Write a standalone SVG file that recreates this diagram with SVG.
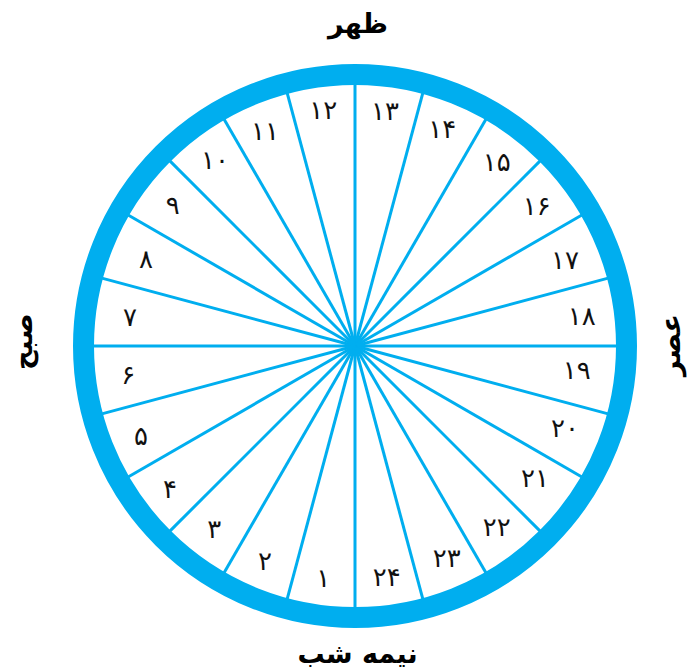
<svg xmlns="http://www.w3.org/2000/svg" width="687" height="672" viewBox="0 0 687 672">
<style>
.spoke{stroke:#00AEEF;stroke-width:3;}
.ring{fill:none;stroke:#00AEEF;stroke-width:21;}
.num{font-family:"DejaVu Sans",sans-serif;font-size:26px;fill:#111;text-anchor:middle;}
.title{font-family:"DejaVu Sans",sans-serif;font-weight:bold;font-size:27px;fill:#000;text-anchor:middle;}
</style>
<rect width="687" height="672" fill="#fff"/>
<g id="connectors">
<g transform="translate(355,346)">
<line class="spoke" x1="0" y1="0" x2="0" y2="-265"/>
<line class="spoke" x1="0" y1="0" x2="0" y2="-265" transform="rotate(15)"/>
<line class="spoke" x1="0" y1="0" x2="0" y2="-265" transform="rotate(30)"/>
<line class="spoke" x1="0" y1="0" x2="0" y2="-265" transform="rotate(45)"/>
<line class="spoke" x1="0" y1="0" x2="0" y2="-265" transform="rotate(60)"/>
<line class="spoke" x1="0" y1="0" x2="0" y2="-265" transform="rotate(75)"/>
<line class="spoke" x1="0" y1="0" x2="0" y2="-265" transform="rotate(90)"/>
<line class="spoke" x1="0" y1="0" x2="0" y2="-265" transform="rotate(105)"/>
<line class="spoke" x1="0" y1="0" x2="0" y2="-265" transform="rotate(120)"/>
<line class="spoke" x1="0" y1="0" x2="0" y2="-265" transform="rotate(135)"/>
<line class="spoke" x1="0" y1="0" x2="0" y2="-265" transform="rotate(150)"/>
<line class="spoke" x1="0" y1="0" x2="0" y2="-265" transform="rotate(165)"/>
<line class="spoke" x1="0" y1="0" x2="0" y2="-265" transform="rotate(180)"/>
<line class="spoke" x1="0" y1="0" x2="0" y2="-265" transform="rotate(195)"/>
<line class="spoke" x1="0" y1="0" x2="0" y2="-265" transform="rotate(210)"/>
<line class="spoke" x1="0" y1="0" x2="0" y2="-265" transform="rotate(225)"/>
<line class="spoke" x1="0" y1="0" x2="0" y2="-265" transform="rotate(240)"/>
<line class="spoke" x1="0" y1="0" x2="0" y2="-265" transform="rotate(255)"/>
<line class="spoke" x1="0" y1="0" x2="0" y2="-265" transform="rotate(270)"/>
<line class="spoke" x1="0" y1="0" x2="0" y2="-265" transform="rotate(285)"/>
<line class="spoke" x1="0" y1="0" x2="0" y2="-265" transform="rotate(300)"/>
<line class="spoke" x1="0" y1="0" x2="0" y2="-265" transform="rotate(315)"/>
<line class="spoke" x1="0" y1="0" x2="0" y2="-265" transform="rotate(330)"/>
<line class="spoke" x1="0" y1="0" x2="0" y2="-265" transform="rotate(345)"/>
</g>
</g>
<g id="clock-ring"><circle class="ring" cx="355" cy="346" r="271.5"/></g>
<g id="hours">
<text class="num" x="323.3" y="118.5">۱۲</text>
<text class="num" x="265" y="139.5">۱۱</text>
<text class="num" x="215" y="168.5">۱۰</text>
<text class="num" x="172.7" y="213.5">۹</text>
<text class="num" x="146" y="267.5">۸</text>
<text class="num" x="130" y="326">۷</text>
<text class="num" x="128.3" y="383.5">۶</text>
<text class="num" x="141" y="444.5">۵</text>
<text class="num" x="170" y="498">۴</text>
<text class="num" x="214.3" y="538">۳</text>
<text class="num" x="265" y="569.5">۲</text>
<text class="num" x="323.3" y="587">۱</text>
<text class="num" x="385" y="119.5">۱۳</text>
<text class="num" x="442.3" y="137.5">۱۴</text>
<text class="num" x="496.7" y="170.5">۱۵</text>
<text class="num" x="536.7" y="214.5">۱۶</text>
<text class="num" x="565" y="268.5">۱۷</text>
<text class="num" x="581.7" y="324.5">۱۸</text>
<text class="num" x="576.7" y="378.5">۱۹</text>
<text class="num" x="565" y="436.5">۲۰</text>
<text class="num" x="535" y="487">۲۱</text>
<text class="num" x="496.7" y="535.5">۲۲</text>
<text class="num" x="446.7" y="567">۲۳</text>
<text class="num" x="386.7" y="585.5">۲۴</text>
</g>
<g id="label-noon"><text class="title" x="358" y="33">ظهر</text></g>
<g id="label-midnight"><text class="title" x="357.5" y="663">نیمه شب</text></g>
<g id="label-morning"><text class="title" transform="translate(32,341.7) rotate(-90)" x="0" y="0">صبح</text></g>
<g id="label-afternoon"><text class="title" transform="translate(680,345) rotate(-90)" x="0" y="0">عصر</text></g>
</svg>
